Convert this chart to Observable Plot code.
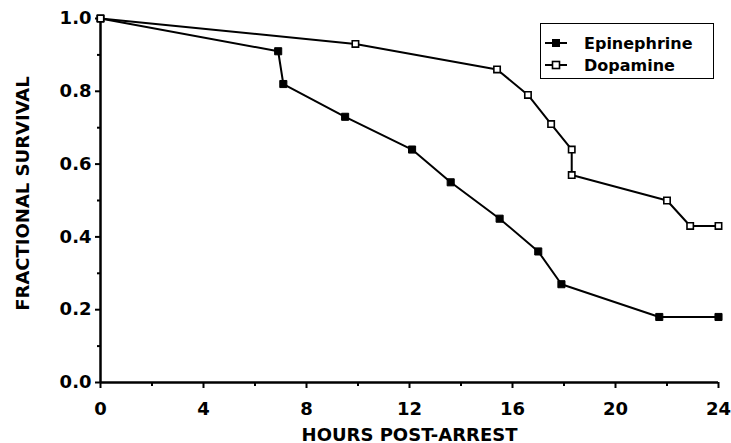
<!DOCTYPE html>
<html>
<head>
<meta charset="utf-8">
<script src="https://cdn.jsdelivr.net/npm/d3@7"></script>
<script src="https://cdn.jsdelivr.net/npm/@observablehq/plot@0.6"></script>
<style>
  html, body { margin: 0; padding: 0; background: #fff; }
  #wrap { position: relative; width: 731px; height: 443px; }
  #wrap svg { display: block; }
  #legend {
    position: absolute; left: 540px; top: 23px; width: 172px; height: 54px;
    border: 1.5px solid #000; background: #fff;
    font-family: "DejaVu Sans", sans-serif; font-weight: bold; font-size: 16px; color: #000;
  }
  .row { position: absolute; left: 4px; height: 20px; display: flex; align-items: center; }
  .row svg { margin-right: 17px; }
</style>
</head>
<body>
<div id="wrap"></div>
<script>
// Data
const epiHours = [0, 6.9, 7.1, 9.5, 12.1, 13.6, 15.5, 17.0, 17.9, 21.7, 24];
const epiSurv  = [1.0, 0.91, 0.82, 0.73, 0.64, 0.55, 0.45, 0.36, 0.27, 0.18, 0.18];
const dopHours = [0, 9.9, 15.4, 16.6, 17.5, 18.3, 18.3, 22.0, 22.9, 24];
const dopSurv  = [1.0, 0.93, 0.86, 0.79, 0.71, 0.64, 0.57, 0.50, 0.43, 0.43];
const seriesNames = ["Epinephrine", "Dopamine"];
const xMajorTicks = [0, 4, 8, 12, 16, 20, 24];
const xMinorTicks = [2, 6, 10, 14, 18, 22];
const yMajorTicks = [0, 0.2, 0.4, 0.6, 0.8, 1.0];
const yMinorTicks = [0.1, 0.3, 0.5, 0.7, 0.9];
const xTitle = "HOURS POST-ARREST";
const yTitle = "FRACTIONAL SURVIVAL";

const epi = epiHours.map((h, i) => ({hours: h, surv: epiSurv[i]}));
const dop = dopHours.map((h, i) => ({hours: h, surv: dopSurv[i]}));

const font = "DejaVu Sans, sans-serif";

const chart = Plot.plot({
  width: 731,
  height: 443,
  marginLeft: 100,
  marginRight: 13,
  marginTop: 18,
  marginBottom: 61,
  style: {fontFamily: font, fontWeight: "bold", fontSize: "18px", color: "#000", background: "#fff", overflow: "visible"},
  x: {domain: [0, 24]},
  y: {domain: [0, 1]},
  marks: [
    Plot.axisX(xMinorTicks, {tickSize: 4, strokeWidth: 2, text: null, label: null}),
    Plot.axisX(xMajorTicks, {tickSize: 6, strokeWidth: 2, tickPadding: 14, fontSize: 18, fontWeight: "bold", label: null}),
    Plot.axisY(yMinorTicks, {tickSize: 3, strokeWidth: 2, text: null, label: null}),
    Plot.axisY(yMajorTicks, {tickSize: 5, strokeWidth: 2, tickPadding: 4, fontSize: 18, fontWeight: "bold", tickFormat: d3.format(".1f"), label: null}),
    Plot.ruleX([0], {stroke: "#000", strokeWidth: 2.5}),
    Plot.ruleY([0], {stroke: "#000", strokeWidth: 2.5}),
    Plot.line(epi, {x: "hours", y: "surv", stroke: "#000", strokeWidth: 2}),
    Plot.line(dop, {x: "hours", y: "surv", stroke: "#000", strokeWidth: 2}),
    Plot.dot(epi, {x: "hours", y: "surv", symbol: "square", r: 4, fill: "#000", stroke: "#000", strokeWidth: 1}),
    Plot.dot(dop, {x: "hours", y: "surv", symbol: "square", r: 3.6, fill: "#fff", stroke: "#000", strokeWidth: 1.6}),
    Plot.text([xTitle], {frameAnchor: "bottom", dy: 58, fontSize: 18, fontWeight: "bold", letterSpacing: "1.2px", lineAnchor: "bottom"}),
    Plot.text([yTitle], {frameAnchor: "left", textAnchor: "middle", dx: -77, dy: -7, rotate: -90, fontSize: 18, fontWeight: "bold", letterSpacing: "1.5px"})
  ]
});

const wrap = document.getElementById("wrap");
wrap.appendChild(chart);

// Legend (HTML overlay)
const legend = document.createElement("div");
legend.id = "legend";
const styles = [
  {fill: "#000", stroke: "#000", sw: 1},
  {fill: "#fff", stroke: "#000", sw: 1.6}
];
seriesNames.forEach((name, i) => {
  const row = document.createElement("div");
  row.className = "row";
  row.style.top = (i === 0 ? 9 : 31) + "px";
  const s = styles[i];
  row.innerHTML = `<svg width="22" height="12"><line x1="0" x2="22" y1="6" y2="6" stroke="#000" stroke-width="2"/>` +
    `<rect x="7.5" y="2.5" width="7" height="7" fill="${s.fill}" stroke="${s.stroke}" stroke-width="${s.sw}"/></svg>` +
    `<span>${name}</span>`;
  legend.appendChild(row);
});
wrap.appendChild(legend);
</script>
</body>
</html>
